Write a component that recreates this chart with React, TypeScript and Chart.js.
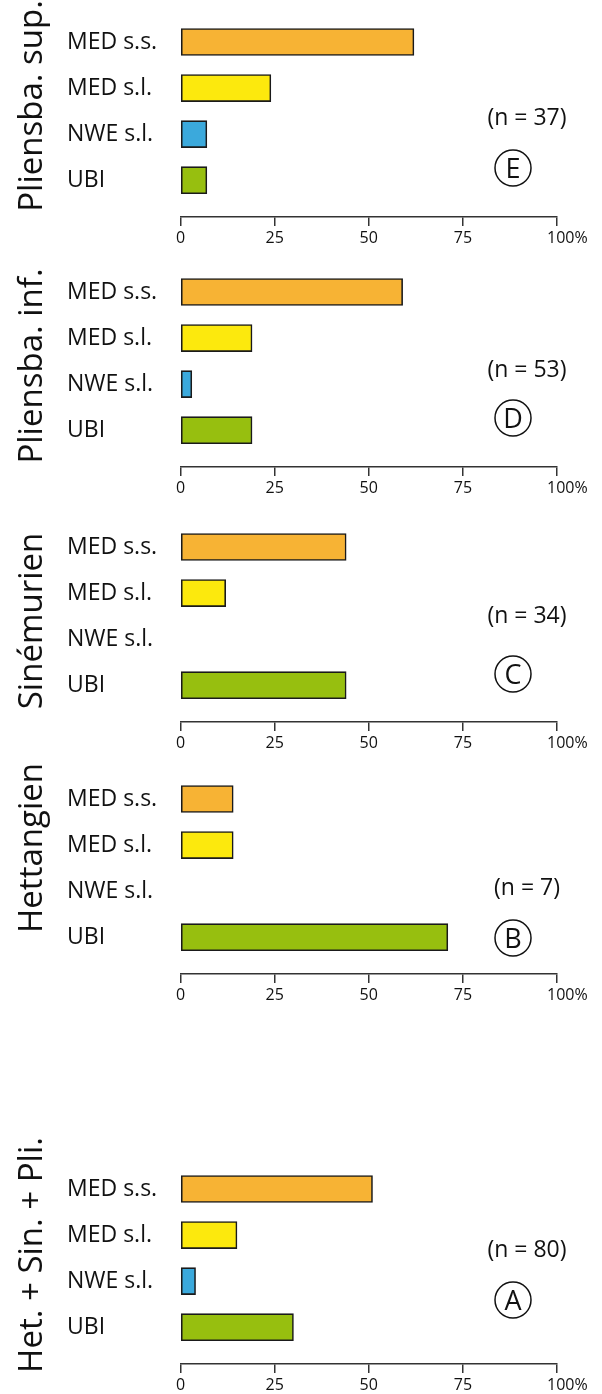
import React, { useEffect, useRef } from "react";
import { Chart, registerables } from "chart.js";

Chart.register(...registerables);
Chart.defaults.font.family = '"Open Sans", "Noto Sans", sans-serif';

// ---------- data ----------
const categories = ["MED s.s.", "MED s.l.", "NWE s.l.", "UBI"];
const xTickValues = [0, 25, 50, 75, 100];
const xTickLabels = ["0", "25", "50", "75", "     100%"];

const valuesE = [62, 24, 7, 7];
const valuesD = [59, 19, 3, 19];
const valuesC = [44, 12, 0, 44];
const valuesB = [14, 14, 0, 71];
const valuesA = [51, 15, 4, 30];

const panelTitles = ["Pliensba. sup.", "Pliensba. inf.", "Sinémurien", "Hettangien", "Het. + Sin. + Pli."];
const panelSampleSizes = [37, 53, 34, 7, 80];
const panelLetters = ["E", "D", "C", "B", "A"];
const panelValues = [valuesE, valuesD, valuesC, valuesB, valuesA];

const barColors = ["#F7B334", "#FCE90D", "#3BA9DC", "#97BF0F"];

// ---------- layout (page pixels) ----------
const CANVAS_W = 602;
const PAD_TOP = 40;
const AREA_H = 198;
const X_AXIS_H = 40;
const CANVAS_H = PAD_TOP + AREA_H + X_AXIS_H;
const chartTops = [19, 269, 524, 776, 1166];
const titleCenters = [106, 366, 621, 848, 1255];
const sampleCenters = [118, 370, 616, 888, 1250];
const letterCenters = [168, 418, 674, 938, 1300];

function makeAnnotations(i: number) {
  return {
    id: "panelText" + i,
    afterDraw(chart: any) {
      const ctx = chart.ctx;
      const top = chartTops[i] - PAD_TOP;
      // rotated panel title
      ctx.save();
      ctx.fillStyle = "#111";
      ctx.font = '33px "Open Sans"';
      ctx.translate(42, titleCenters[i] - top);
      ctx.rotate(-Math.PI / 2);
      ctx.textAlign = "center";
      ctx.textBaseline = "alphabetic";
      ctx.fillText(panelTitles[i], 0, 0);
      ctx.restore();

      // sample size
      ctx.save();
      ctx.fillStyle = "#111";
      ctx.font = '23px "Open Sans"';
      ctx.textAlign = "center";
      ctx.textBaseline = "middle";
      ctx.fillText("(n = " + panelSampleSizes[i] + ")", 527, sampleCenters[i] - top);
      ctx.restore();

      // circled letter
      ctx.save();
      const cy = letterCenters[i] - top;
      ctx.strokeStyle = "#111";
      ctx.lineWidth = 1.5;
      ctx.beginPath();
      ctx.arc(513, cy, 18, 0, Math.PI * 2);
      ctx.stroke();
      ctx.fillStyle = "#111";
      ctx.font = '27px "Open Sans"';
      ctx.textAlign = "center";
      ctx.textBaseline = "alphabetic";
      ctx.fillText(panelLetters[i], 513, cy + 9.6);
      ctx.restore();
    },
  };
}

function Panel({ index }: { index: number }) {
  const ref = useRef<HTMLCanvasElement | null>(null);
  useEffect(() => {
    if (!ref.current) return;
    const values = panelValues[index];
    const chart = new Chart(ref.current, {
      type: "bar",
      data: {
        datasets: [
          {
            data: values.map((v, i) => ({ x: v === 0 ? null : v, y: i })) as any,
            backgroundColor: barColors,
            borderColor: "#1a1a1a",
            borderWidth: 1.6,
            borderSkipped: false,
            barThickness: 27,
          },
        ],
      },
      options: {
        responsive: false,
        animation: false,
        indexAxis: "y",
        layout: { padding: { left: 67, right: 45, top: PAD_TOP, bottom: 0 } },
        plugins: {
          legend: { display: false },
          tooltip: { enabled: false },
          title: { display: false },
        },
        scales: {
          x: {
            type: "linear",
            position: "bottom",
            min: 0,
            max: 100,
            afterBuildTicks: (axis: any) => {
              axis.ticks = xTickValues.map((v) => ({ value: v }));
            },
            afterFit: (axis: any) => {
              axis.height = X_AXIS_H;
            },
            grid: {
              drawOnChartArea: false,
              drawTicks: true,
              tickLength: 9,
              color: "#333",
              lineWidth: 1.5,
            },
            border: { display: true, color: "#333", width: 1.5 },
            ticks: {
              callback: (_v: any, idx: number) => xTickLabels[idx],
              color: "#111",
              font: { size: 16 },
              padding: 3,
              maxRotation: 0,
              autoSkip: false,
            },
          },
          y: {
            type: "linear",
            reverse: true,
            offset: false,
            min: -0.5,
            max: 3.8,
            afterBuildTicks: (axis: any) => {
              axis.ticks = categories.map((_c, i) => ({ value: i }));
            },
            afterFit: (axis: any) => {
              axis.width = 113.5;
            },
            grid: { display: false, drawTicks: false, offset: false },
            border: { display: false },
            ticks: {
              callback: (v: any) => categories[v as number],
              crossAlign: "far",
              color: "#111",
              font: { size: 23 },
              padding: 0,
              autoSkip: false,
            },
          },
        },
      } as any,
      plugins: [makeAnnotations(index)],
    });
    return () => chart.destroy();
  }, [index]);

  return (
    <canvas
      ref={ref}
      width={CANVAS_W}
      height={CANVAS_H}
      style={{
        position: "absolute",
        left: 0,
        top: chartTops[index] - PAD_TOP,
        width: CANVAS_W,
        height: CANVAS_H,
      }}
    />
  );
}

export default function App() {
  return (
    <div
      style={{
        position: "absolute",
        left: 0,
        top: 0,
        width: 602,
        height: 1394,
        background: "#fff",
        overflow: "hidden",
      }}
    >
      {panelValues.map((_v, i) => (
        <Panel key={i} index={i} />
      ))}
    </div>
  );
}
